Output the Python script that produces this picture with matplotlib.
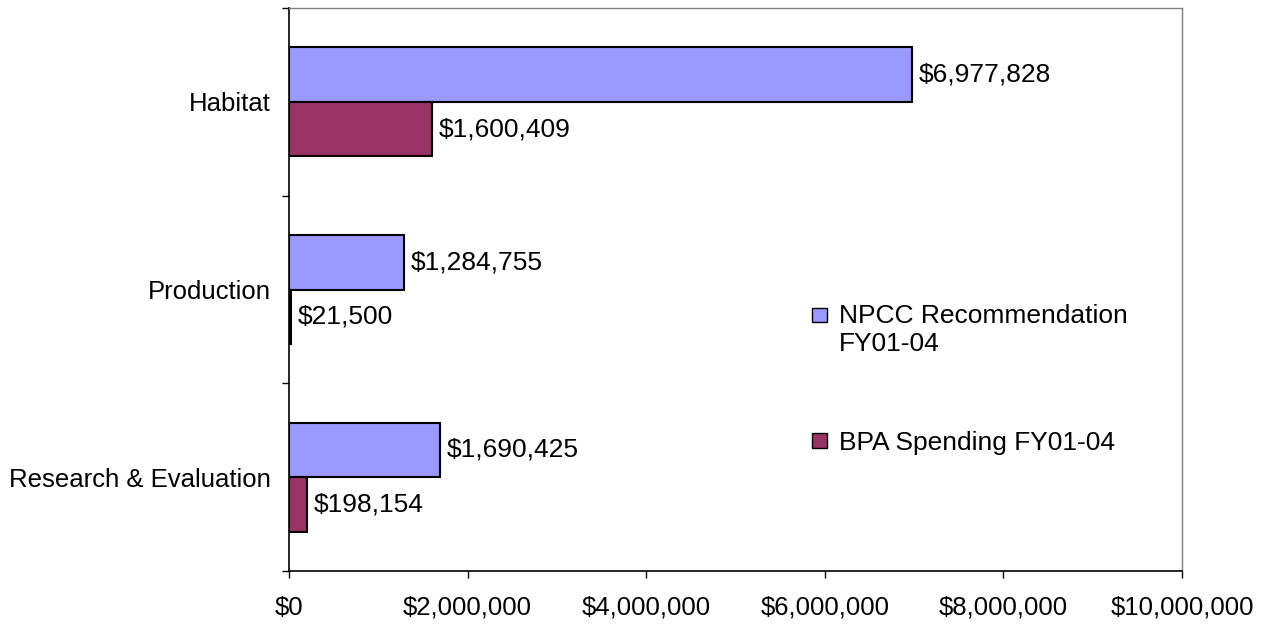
import matplotlib.pyplot as plt
import numpy as np
from matplotlib.patches import Patch, Rectangle
from matplotlib.legend_handler import HandlerPatch

plt.rcParams['font.family'] = ['Liberation Sans', 'DejaVu Sans']

categories = ["Habitat", "Production", "Research & Evaluation"]
npcc = [6977828, 1284755, 1690425]
bpa = [1600409, 21500, 198154]
series_names = ["NPCC Recommendation\nFY01-04", "BPA Spending FY01-04"]
xticks = [0, 2000000, 4000000, 6000000, 8000000, 10000000]

c_npcc = "#9999FF"
c_bpa = "#993366"

fig = plt.figure(figsize=(12.62, 6.25), dpi=100)
ax = fig.add_axes([289 / 1262, 1 - 571 / 625, (1182 - 289) / 1262, (571 - 8) / 625])

y = np.arange(len(categories))
h = 0.29
b1 = ax.barh(y - h / 2, npcc, height=h, color=c_npcc, edgecolor="black", linewidth=1.5)
b2 = ax.barh(y + h / 2, bpa, height=h, color=c_bpa, edgecolor="black", linewidth=1.5)

for bars, vals in ((b1, npcc), (b2, bpa)):
    for rect, v in zip(bars, vals):
        ax.annotate(f"${v:,.0f}", xy=(rect.get_width(), rect.get_y() + rect.get_height() / 2),
                    xytext=(5, 0), textcoords="offset points", va="center", ha="left",
                    fontsize=19)

ax.set_xlim(0, 10000000)
ax.set_ylim(len(categories) - 0.5, -0.5)
ax.set_xticks(xticks)
ax.set_xticklabels([f"${v:,.0f}" for v in xticks], fontsize=18.5)
ax.set_yticks(y)
ax.set_yticklabels(categories, fontsize=18.5)
ax.set_yticks(np.arange(len(categories) + 1) - 0.5, minor=True)
ax.tick_params(axis="y", which="major", length=0, pad=13)
ax.tick_params(axis="y", which="minor", length=5, width=1, direction="out")
ax.tick_params(axis="x", length=5, width=1, direction="out", pad=13)

for s in ("top", "right"):
    ax.spines[s].set_color("#808080")
    ax.spines[s].set_linewidth(1)
for s in ("left", "bottom"):
    ax.spines[s].set_color("black")
    ax.spines[s].set_linewidth(1.2)


# square handle; shifted up for the two-line entry so it sits on the first line
def square(shift):
    def make(legend, orig_handle, xdescent, ydescent, width, height, fontsize):
        s = 0.55 * fontsize
        return Rectangle((-xdescent, -ydescent + (height - s) / 2 + shift), s, s)
    return HandlerPatch(patch_func=make)


handles = [Patch(facecolor=c_npcc, edgecolor="black"), Patch(facecolor=c_bpa, edgecolor="black")]
ax.legend(handles, series_names, loc="upper left", bbox_to_anchor=(0.574, 0.493),
          frameon=False, fontsize=19, handlelength=0.55, handleheight=0.55,
          handletextpad=0.45, labelspacing=2.85, borderaxespad=0,
          handler_map={handles[0]: square(11), handles[1]: square(0)})

fig.savefig("out.png", dpi=100)
